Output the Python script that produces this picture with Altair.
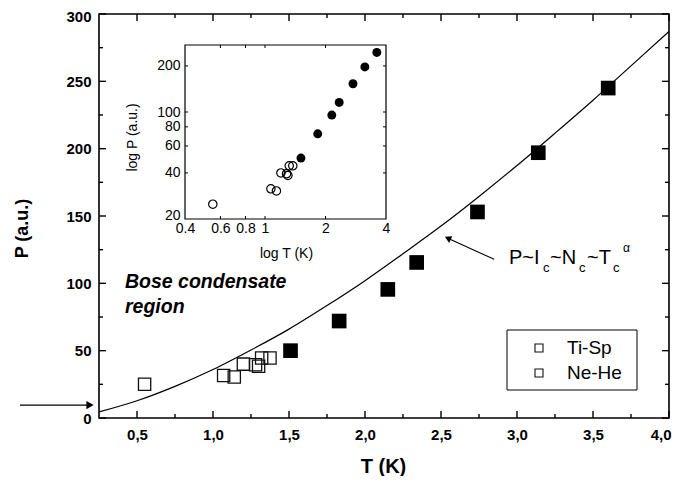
import altair as alt
import pandas as pd

# ---------------- data ----------------
open_T = [0.55, 1.07, 1.14, 1.20, 1.28, 1.30, 1.32, 1.375]
open_P = [25.0, 31.5, 30.5, 40.0, 39.5, 38.5, 44.5, 44.5]
filled_T = [1.51, 1.83, 2.15, 2.34, 2.74, 3.14, 3.60]
filled_P = [50.0, 72.0, 95.5, 115.5, 153.0, 197.0, 245.0]
curve_T = [0.25, 0.5, 0.75, 1.0, 1.25, 1.5, 1.75, 2.0, 2.25, 2.5, 2.75, 3.0, 3.25, 3.5, 3.75, 4.0]
curve_P = [4.5, 12.8, 23.5, 36.0, 50.5, 66.0, 83.5, 102.0, 122.0, 142.5, 164.5, 187.5, 211.5, 236.0, 261.5, 287.0]

x_major = [0.5, 1.0, 1.5, 2.0, 2.5, 3.0, 3.5, 4.0]
x_minor = [0.75, 1.25, 1.75, 2.25, 2.75, 3.25, 3.75]
y_major = [0, 50, 100, 150, 200, 250, 300]
y_minor = [25, 75, 125, 175, 225, 275]
inset_x_ticks = [0.4, 0.6, 0.8, 1, 2, 4]
inset_y_ticks = [20, 40, 60, 80, 100, 200]
inset_x_inner = [0.6, 0.8, 1, 2]
inset_y_inner = [40, 60, 80, 100, 200]
legend_labels = ["Ti-Sp", "Ne-He"]
bose_lines = ["Bose condensate", "region"]
marker_P = [9.6]               # level marked by the left arrow
arrow_T, arrow_P = [2.85], [117.8]          # annotation arrow tail
arrow_T2, arrow_P2 = [2.545], [133.5]       # annotation arrow head

W, H = 570, 404
FONT = "Liberation Sans"

xs = alt.Scale(domain=[0.25, 4.0], nice=False, zero=False)
ys = alt.Scale(domain=[0, 300], nice=False, zero=False)

open_df = pd.DataFrame({"T": open_T, "P": open_P})
filled_df = pd.DataFrame({"T": filled_T, "P": filled_P})
curve_df = pd.DataFrame({"T": curve_T, "P": curve_P})

# ---------------- main panel ----------------
curve = alt.Chart(curve_df).mark_line(color="black", strokeWidth=1.2, interpolate="monotone").encode(
    x=alt.X("T:Q", scale=xs, axis=alt.Axis(
        values=x_major, labelExpr="replace(format(datum.value, '.1f'), '.', ',')",
        labelFont=FONT, labelFontWeight="bold", labelFontSize=15, labelColor="black",
        labelFlush=True, labelFlushOffset=2, labelOverlap=False, labelPadding=9,
        tickSize=0, domain=False, grid=False,
        title="T (K)", titleFont=FONT, titleFontSize=20, titleFontWeight="bold", titleColor="black",
        titleX=284, titleY=48, titleBaseline="middle", titleAlign="center")),
    y=alt.Y("P:Q", scale=ys, axis=alt.Axis(
        values=y_major, format="d",
        labelFont=FONT, labelFontWeight="bold", labelFontSize=15, labelColor="black",
        labelFlush=False, labelOverlap=False, labelPadding=8,
        labelOffset={"condition": {"test": "datum.value == 300", "value": 2}, "value": 0},
        tickSize=0, domain=False, grid=False,
        title="P (a.u.)", titleFont=FONT, titleFontSize=18, titleFontWeight="bold", titleColor="black",
        titleX=-77, titleY=214, titleAngle=270, titleBaseline="middle", titleAlign="center")),
)


def xticks(vals, length, top):
    df = pd.DataFrame({"T": vals})
    y0, y1 = (0, length) if top else (H, H - length)
    return alt.Chart(df).mark_rule(color="black", strokeWidth=1.4).encode(
        x=alt.X("T:Q", scale=xs), y=alt.value(y0), y2=alt.value(y1))


def yticks(vals, length, right):
    df = pd.DataFrame({"P": vals})
    x0, x1 = (W, W - length) if right else (0, length)
    return alt.Chart(df).mark_rule(color="black", strokeWidth=1.4).encode(
        y=alt.Y("P:Q", scale=ys), x=alt.value(x0), x2=alt.value(x1))


main_ticks = [
    xticks(x_major, 7, False), xticks(x_major, 7, True),
    xticks(x_minor, 4, False), xticks(x_minor, 4, True),
    yticks(y_major, 7, False), yticks(y_major, 7, True),
    yticks(y_minor, 4, False), yticks(y_minor, 4, True),
]

open_sq = alt.Chart(open_df).mark_point(shape="square", filled=False, size=150, stroke="#111",
                                        strokeWidth=1.3, opacity=1).encode(
    x=alt.X("T:Q", scale=xs), y=alt.Y("P:Q", scale=ys))
filled_sq = alt.Chart(filled_df).mark_point(shape="square", filled=True, size=215, color="black",
                                            opacity=1).encode(
    x=alt.X("T:Q", scale=xs), y=alt.Y("P:Q", scale=ys))

# left arrow marking a level on the P axis
mk_df = pd.DataFrame({"P": marker_P})
left_line = alt.Chart(mk_df).mark_rule(color="black", strokeWidth=1.2).encode(
    y=alt.Y("P:Q", scale=ys), x=alt.value(-79), x2=alt.value(-9))
left_head = alt.Chart(mk_df).mark_point(shape="triangle-right", filled=True, size=70, color="black",
                                        opacity=1).encode(
    y=alt.Y("P:Q", scale=ys), x=alt.value(-9))

# annotation arrow
arr_df = pd.DataFrame({"T": arrow_T, "P": arrow_P, "T2": arrow_T2, "P2": arrow_P2})
arr_line = alt.Chart(arr_df).mark_rule(color="black", strokeWidth=1.1).encode(
    x=alt.X("T:Q", scale=xs), y=alt.Y("P:Q", scale=ys), x2="T2:Q", y2="P2:Q")
arr_head = alt.Chart(pd.DataFrame({"T": arrow_T2, "P": arrow_P2})).mark_point(
    shape="triangle-up", filled=True, size=55, color="black", angle=295, opacity=1).encode(
    x=alt.X("T:Q", scale=xs), y=alt.Y("P:Q", scale=ys))


def label(txt, x, y, size, weight="normal", style="normal", align="left"):
    return alt.Chart(pd.DataFrame({"t": [txt]})).mark_text(
        font=FONT, fontSize=size, fontWeight=weight, fontStyle=style, align=align,
        baseline="alphabetic", color="black").encode(text="t:N", x=alt.value(x), y=alt.value(y))


formula = [
    label("P~I", 410, 250, 20),
    label("c", 444, 258, 13),
    label("~N", 451, 250, 20),
    label("c", 480, 258, 13),
    label("~T", 488, 250, 20),
    label("c", 514, 258, 13),
    label("α", 524, 238, 12),
]

bose = [
    label(bose_lines[0], 26, 274, 19.5, "bold", "italic"),
    label(bose_lines[1], 26, 299, 19.5, "bold", "italic"),
]

legend_box = alt.Chart(pd.DataFrame({"a": [0]})).mark_rect(fill="white", stroke="black", strokeWidth=1).encode(
    x=alt.value(408), x2=alt.value(538), y=alt.value(316), y2=alt.value(376))
leg_df = pd.DataFrame({"lab": legend_labels, "yy": [334, 359]})
legend_sym = alt.Chart(leg_df).mark_point(shape="square", filled=False, size=64, stroke="#111",
                                          strokeWidth=1.1, opacity=1).encode(
    x=alt.value(440), y=alt.Y("yy:Q", scale=None, axis=None))
legend_txt = alt.Chart(leg_df).mark_text(font=FONT, fontSize=19, align="left", baseline="middle",
                                         color="black").encode(
    x=alt.value(468), y=alt.Y("yy:Q", scale=None, axis=None), text="lab:N")

main = alt.layer(curve, *main_ticks, open_sq, filled_sq, left_line, left_head, arr_line, arr_head,
                 *formula, *bose, legend_box, legend_sym, legend_txt)

# ---------------- inset (log-log) ----------------
IX0, IX1, IY0, IY1 = 86, 287, 205, 31
ixs = alt.Scale(type="log", domain=[0.4, 4], range=[IX0, IX1], nice=False)
iys = alt.Scale(type="log", domain=[20, 274], range=[IY0, IY1], nice=False)

frame = alt.Chart(pd.DataFrame({"a": [0]})).mark_rect(fill="white", stroke="black", strokeWidth=1.2).encode(
    x=alt.value(IX0), x2=alt.value(IX1), y=alt.value(IY1), y2=alt.value(IY0))


def ixt(vals, top):
    y0, y1 = (IY1, IY1 + 3) if top else (IY0, IY0 - 3)
    return alt.Chart(pd.DataFrame({"T": vals})).mark_rule(color="black", strokeWidth=1).encode(
        x=alt.X("T:Q", scale=ixs), y=alt.value(y0), y2=alt.value(y1))


def iyt(vals, right):
    x0, x1 = (IX1, IX1 - 3) if right else (IX0, IX0 + 3)
    return alt.Chart(pd.DataFrame({"P": vals})).mark_rule(color="black", strokeWidth=1).encode(
        y=alt.Y("P:Q", scale=iys), x=alt.value(x0), x2=alt.value(x1))


open_c = alt.Chart(open_df).mark_point(shape="circle", filled=False, size=70, stroke="black",
                                       strokeWidth=1.2, opacity=1).encode(
    x=alt.X("T:Q", scale=ixs, axis=alt.Axis(
        orient="bottom", offset=IY0 - H, values=inset_x_ticks, format="~g",
        labelFont=FONT, labelFontSize=14, labelColor="black", labelPadding=2,
        labelFlush=False, labelOverlap=False, tickSize=0, domain=False, grid=False,
        title="log T (K)", titleFont=FONT, titleFontSize=14, titleFontWeight="normal", titleColor="black",
        titleX=187, titleY=34, titleBaseline="middle", titleAlign="center")),
    y=alt.Y("P:Q", scale=iys, axis=alt.Axis(
        orient="left", offset=-IX0, values=inset_y_ticks, format="~g",
        labelFont=FONT, labelFontSize=14, labelColor="black", labelPadding=5,
        labelOffset={"condition": {"test": "datum.value == 20", "value": -4}, "value": 0},
        labelFlush=False, labelOverlap=False, tickSize=0, domain=False, grid=False,
        title="log P (a.u.)", titleFont=FONT, titleFontSize=14, titleFontWeight="normal", titleColor="black",
        titleX=-53, titleY=123, titleAngle=270, titleBaseline="middle", titleAlign="center")),
)
filled_c = alt.Chart(filled_df).mark_circle(size=80, color="black", opacity=1).encode(
    x=alt.X("T:Q", scale=ixs), y=alt.Y("P:Q", scale=iys))

inset = alt.layer(frame, ixt(inset_x_inner, False), ixt(inset_x_inner, True),
                  iyt(inset_y_inner, False), iyt(inset_y_inner, True), open_c, filled_c)

chart = alt.layer(main, inset).resolve_scale(x="independent", y="independent").properties(
    width=W, height=H,
    padding={"left": 91, "top": 6, "right": 4, "bottom": 58},
    autosize=alt.AutoSizeParams(type="none"),
    background="white",
).configure_view(stroke="black", strokeWidth=1.6)

chart.save("out.html", embed_options={"renderer": "svg", "actions": False})
